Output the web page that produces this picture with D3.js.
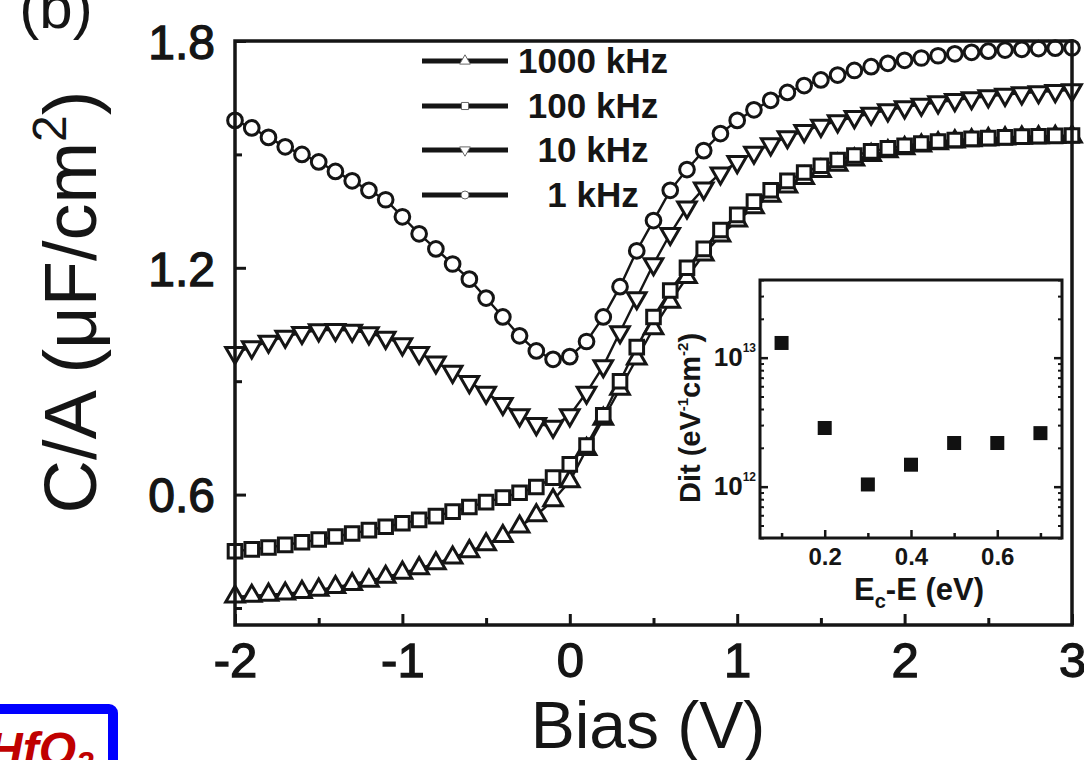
<!DOCTYPE html>
<html>
<head>
<meta charset="utf-8">
<script src="https://cdn.jsdelivr.net/npm/d3@7"></script>
<style>
  body { margin: 0; background: #fff; }
  svg { display: block; font-family: "Liberation Sans", Arial, sans-serif; }
</style>
</head>
<body>
<svg id="chart" width="1084" height="760"></svg>
<script>
// bias sweep (V)
var bias = [-2.0,-1.9,-1.8,-1.7,-1.6,-1.5,-1.4,-1.3,-1.2,-1.1,-1.0,-0.9,-0.8,-0.7,-0.6,-0.5,-0.4,-0.3,-0.2,-0.1,
  0.0,0.1,0.2,0.3,0.4,0.5,0.6,0.7,0.8,0.9,1.0,1.1,1.2,1.3,1.4,1.5,1.6,1.7,1.8,1.9,
  2.0,2.1,2.2,2.3,2.4,2.5,2.6,2.7,2.8,2.9,3.0];

// C/A (uF/cm2)
var c1k = [1.59,1.57,1.545,1.52,1.50,1.48,1.455,1.43,1.405,1.38,1.335,1.29,1.25,1.21,1.17,1.12,1.07,1.02,0.98,0.958,
  0.965,1.005,1.07,1.15,1.245,1.325,1.405,1.46,1.51,1.555,1.59,1.618,1.643,1.664,1.682,1.697,1.71,1.722,1.732,1.741,
  1.749,1.755,1.761,1.766,1.77,1.773,1.776,1.778,1.78,1.781,1.782];
var c10k = [0.975,0.99,1.005,1.018,1.028,1.035,1.036,1.034,1.027,1.015,0.998,0.975,0.95,0.925,0.898,0.87,0.84,0.81,0.787,0.78,
  0.81,0.87,0.94,1.03,1.12,1.21,1.29,1.36,1.41,1.45,1.48,1.505,1.527,1.546,1.562,1.576,1.588,1.599,1.608,1.617,
  1.625,1.632,1.638,1.644,1.649,1.654,1.658,1.662,1.665,1.668,1.67];
var c100k = [0.45,0.455,0.46,0.467,0.474,0.481,0.489,0.497,0.506,0.515,0.524,0.533,0.543,0.555,0.567,0.58,0.592,0.605,0.62,0.645,
  0.68,0.73,0.81,0.9,0.99,1.07,1.14,1.2,1.25,1.3,1.34,1.375,1.405,1.43,1.452,1.47,1.485,1.497,1.508,1.516,
  1.523,1.529,1.534,1.538,1.541,1.543,1.545,1.547,1.548,1.549,1.55];
var c1000k = [0.33,0.332,0.335,0.338,0.342,0.348,0.355,0.363,0.372,0.382,0.393,0.405,0.418,0.433,0.45,0.468,0.49,0.515,0.545,0.585,
  0.635,0.72,0.8,0.88,0.96,1.04,1.11,1.175,1.235,1.285,1.325,1.36,1.39,1.415,1.437,1.456,1.472,1.486,1.498,1.508,
  1.516,1.523,1.529,1.534,1.537,1.54,1.542,1.544,1.545,1.546,1.547];

var legendLabels = ["1000 kHz", "100 kHz", "10 kHz", "1 kHz"];
var xTicks = [-2, -1, 0, 1, 2, 3];
var xMinor = [-1.5, -0.5, 0.5, 1.5, 2.5];
var yTicks = [0.6, 1.2, 1.8];
var yMinor = [0.3, 0.9, 1.5];

// inset: interface trap density
var insetE = [0.1, 0.2, 0.3, 0.4, 0.5, 0.6, 0.7];
var insetDit = [1.3e13, 2.85e12, 1.04e12, 1.48e12, 2.18e12, 2.18e12, 2.6e12];
var insetXTicks = [0.2, 0.4, 0.6];
var insetXMinor = [0.1, 0.3, 0.5, 0.7];
var insetYTicks = [1e12, 1e13];

var svg = d3.select("#chart");
var ink = "#151515";

var x = d3.scaleLinear().domain([-2, 3]).range([235, 1072]);
var y = d3.scaleLinear().domain([0.255, 1.8]).range([625, 41]);

// axes (ticks inward)
function styleAxis(g, w) {
  g.select(".domain").remove();
  g.selectAll(".tick line").attr("stroke", ink).attr("stroke-width", w);
}
svg.append("g").attr("transform", "translate(0,625)")
  .call(d3.axisBottom(x).tickValues(xTicks).tickSize(-11).tickPadding(14)
    .tickFormat(function(d) { return String(d); }))
  .call(styleAxis, 3)
  .selectAll("text").attr("font-size", 49).attr("fill", ink).attr("font-family", "Liberation Sans, Arial")
  .attr("stroke", ink).attr("stroke-width", 1.3).attr("dy", "0.72em").attr("y", 17);
svg.append("g").attr("transform", "translate(0,625)")
  .call(d3.axisBottom(x).tickValues(xMinor).tickSize(-7).tickFormat(""))
  .call(styleAxis, 3);
svg.append("g").attr("transform", "translate(235,0)")
  .call(d3.axisLeft(y).tickValues(yTicks).tickSize(-11).tickPadding(20).tickFormat(d3.format(".1f")))
  .call(styleAxis, 3)
  .selectAll("text").attr("font-size", 48).attr("fill", ink).attr("font-family", "Liberation Sans, Arial")
  .attr("stroke", ink).attr("stroke-width", 1.3).attr("dy", "0.36em");
svg.append("g").attr("transform", "translate(235,0)")
  .call(d3.axisLeft(y).tickValues(yMinor).tickSize(-7).tickFormat(""))
  .call(styleAxis, 3);

// series
var series = [
  { name: "1000 kHz", values: c1000k, shape: d3.symbolTriangle, size: 150, rot: 0 },
  { name: "100 kHz", values: c100k, shape: d3.symbolSquare, size: 185, rot: 0 },
  { name: "10 kHz", values: c10k, shape: d3.symbolTriangle, size: 150, rot: 180 },
  { name: "1 kHz", values: c1k, shape: d3.symbolCircle, size: 170, rot: 0 }
];

var line = d3.line().x(function(d) { return x(d[0]); }).y(function(d) { return y(d[1]); });
var plot = svg.append("g");
series.forEach(function(s) {
  var pts = bias.map(function(b, i) { return [b, s.values[i]]; });
  plot.append("path").datum(pts).attr("d", line)
    .attr("fill", "none").attr("stroke", ink).attr("stroke-width", 2.4);
});
series.forEach(function(s) {
  var pts = bias.map(function(b, i) { return [b, s.values[i]]; });
  plot.append("g").selectAll("path").data(pts).enter().append("path")
    .attr("d", d3.symbol().type(s.shape).size(s.size))
    .attr("transform", function(d) {
      return "translate(" + x(d[0]) + "," + y(d[1]) + ") rotate(" + s.rot + ")";
    })
    .attr("fill", "#fff").attr("stroke", ink).attr("stroke-width", 3);
});

// frame
svg.append("rect").attr("x", 235).attr("y", 41).attr("width", 837).attr("height", 584)
  .attr("fill", "none").attr("stroke", ink).attr("stroke-width", 3.5);

// legend
var legRows = [61, 106, 150, 195];
legendLabels.forEach(function(lbl, i) {
  var s = series.filter(function(d) { return d.name === lbl; })[0];
  var ly = legRows[i];
  svg.append("line").attr("x1", 422).attr("x2", 508).attr("y1", ly).attr("y2", ly)
    .attr("stroke", ink).attr("stroke-width", 5);
  svg.append("path").attr("d", d3.symbol().type(s.shape).size(50))
    .attr("transform", "translate(465," + ly + ") rotate(" + s.rot + ")")
    .attr("fill", "#fff").attr("stroke", "#666").attr("stroke-width", 1);
  svg.append("text").attr("x", 593).attr("y", ly + 12).attr("text-anchor", "middle")
    .attr("font-size", 35).attr("font-weight", "bold").attr("fill", ink).text(lbl);
});

// axis titles
svg.append("text").attr("x", 648).attr("y", 748).attr("text-anchor", "middle")
  .attr("font-size", 66).attr("fill", ink).text("Bias (V)");
var yt = svg.append("text").attr("transform", "translate(96,302) rotate(-90)")
  .attr("text-anchor", "middle").attr("font-size", 74).attr("fill", ink);
yt.append("tspan").text("C/A (\u03BCF/cm");
yt.append("tspan").attr("font-size", 48).attr("dy", -30).text("2");
yt.append("tspan").attr("dy", 30).text(")");

svg.append("text").attr("x", 56).attr("y", 28).attr("text-anchor", "middle")
  .attr("font-size", 60).attr("fill", ink).text("(b)");

// inset
var ix = d3.scaleLinear().domain([0.05, 0.75]).range([760, 1062]);
var iy = d3.scaleLog().domain([4e11, 4e13]).range([538, 280]);
var inset = svg.append("g");
inset.append("rect").attr("x", 760).attr("y", 280).attr("width", 302).attr("height", 258)
  .attr("fill", "#fff").attr("stroke", "none");

inset.append("g").attr("transform", "translate(0,538)")
  .call(d3.axisBottom(ix).tickValues(insetXTicks).tickSize(-8).tickPadding(10).tickFormat(d3.format(".1f")))
  .call(styleAxis, 2.5)
  .selectAll("text").attr("font-size", 24).attr("font-weight", "bold").attr("fill", ink)
  .attr("font-family", "Liberation Sans, Arial");
inset.append("g").attr("transform", "translate(0,538)")
  .call(d3.axisBottom(ix).tickValues(insetXMinor).tickSize(-5).tickFormat(""))
  .call(styleAxis, 2.5);

var minorLog = iy.ticks().filter(function(v) { return insetYTicks.indexOf(v) < 0; });
[[760, -1], [1062, 1]].forEach(function(side) {
  var ax = side[1] < 0 ? d3.axisLeft : d3.axisRight;
  inset.append("g").attr("transform", "translate(" + side[0] + ",0)")
    .call(ax(iy).tickValues(insetYTicks).tickSize(-8).tickFormat(""))
    .call(styleAxis, 2.5);
  inset.append("g").attr("transform", "translate(" + side[0] + ",0)")
    .call(ax(iy).tickValues(minorLog).tickSize(-4).tickFormat(""))
    .call(styleAxis, 2);
});
insetYTicks.forEach(function(v) {
  var t = inset.append("text").attr("x", 756).attr("y", iy(v) + 8).attr("text-anchor", "end")
    .attr("font-size", 26).attr("font-weight", "bold").attr("fill", ink);
  t.append("tspan").text("10");
  t.append("tspan").attr("font-size", 12).attr("dy", -14).text(Math.round(Math.log10(v)));
});

inset.selectAll("rect.pt").data(insetE).enter().append("rect").attr("class", "pt")
  .attr("x", function(d) { return ix(d) - 7; })
  .attr("y", function(d, i) { return iy(insetDit[i]) - 7; })
  .attr("width", 14).attr("height", 14).attr("fill", "#111");

inset.append("rect").attr("x", 760).attr("y", 280).attr("width", 302).attr("height", 258)
  .attr("fill", "none").attr("stroke", ink).attr("stroke-width", 3);

var il = inset.append("text").attr("transform", "translate(700,418) rotate(-90)")
  .attr("text-anchor", "middle").attr("font-size", 29).attr("font-weight", "bold").attr("fill", ink);
il.append("tspan").text("Dit (eV");
il.append("tspan").attr("font-size", 15).attr("dy", -12).text("-1");
il.append("tspan").attr("dy", 12).text("cm");
il.append("tspan").attr("font-size", 15).attr("dy", -12).text("-2");
il.append("tspan").attr("dy", 12).text(")");

var ixl = inset.append("text").attr("x", 919).attr("y", 600).attr("text-anchor", "middle")
  .attr("font-size", 31).attr("font-weight", "bold").attr("fill", ink);
ixl.append("tspan").text("E");
ixl.append("tspan").attr("font-size", 20).attr("dy", 8).text("c");
ixl.append("tspan").attr("dy", -8).text("-E (eV)");

// corner label box
svg.append("rect").attr("x", -10).attr("y", 709).attr("width", 123).attr("height", 80).attr("rx", 4)
  .attr("fill", "#fff").attr("stroke", "#0000ff").attr("stroke-width", 10);
var hf = svg.append("text").attr("x", -12).attr("y", 766).attr("font-size", 48)
  .attr("font-weight", "bold").attr("font-style", "italic").attr("fill", "#c00000");
hf.append("tspan").text("HfO");
hf.append("tspan").attr("font-size", 32).attr("dy", 8).text("2");
</script>
</body>
</html>
